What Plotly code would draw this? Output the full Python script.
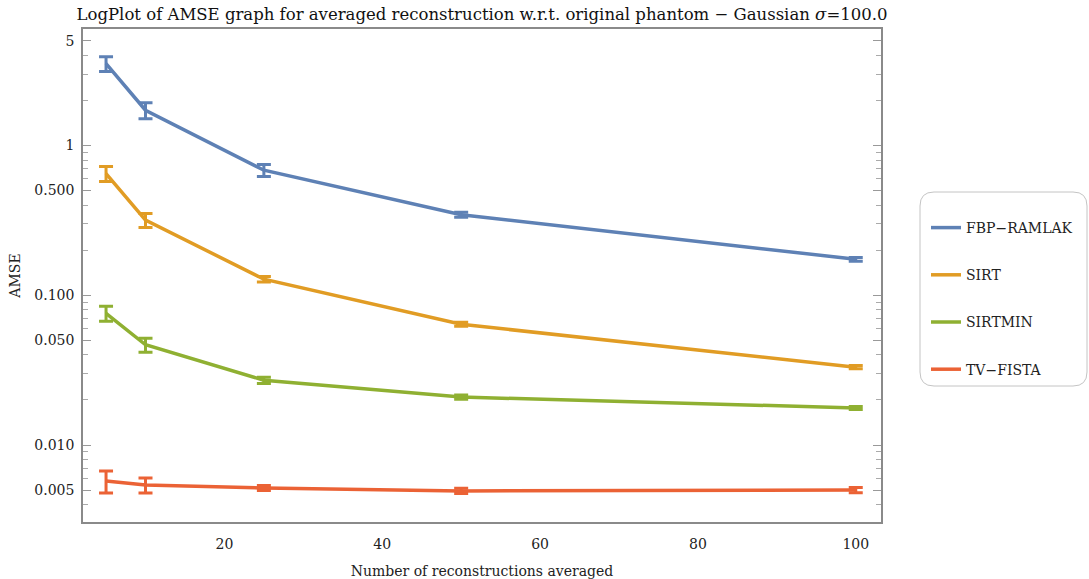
import plotly.graph_objects as go

# Number of reconstructions averaged
n_recon = [5, 10, 25, 50, 100]

# Mean AMSE per method and its standard deviation
fbp_mean = [3.52, 1.72, 0.684, 0.345, 0.174]
fbp_err = [0.40, 0.21, 0.063, 0.013, 0.005]

sirt_mean = [0.650, 0.318, 0.128, 0.0640, 0.0331]
sirt_err = [0.075, 0.034, 0.0055, 0.0020, 0.0008]

sirtmin_mean = [0.0758, 0.0467, 0.0271, 0.0209, 0.0177]
sirtmin_err = [0.0087, 0.0050, 0.0013, 0.0007, 0.0004]

tv_mean = [0.00575, 0.00541, 0.00517, 0.00494, 0.00501]
tv_err = [0.00096, 0.00062, 0.00020, 0.00020, 0.00020]

series = [
    ("FBP\u2212RAMLAK", fbp_mean, fbp_err, "#5E81B5"),
    ("SIRT", sirt_mean, sirt_err, "#E19C24"),
    ("SIRTMIN", sirtmin_mean, sirtmin_err, "#8FB032"),
    ("TV\u2212FISTA", tv_mean, tv_err, "#EB6235"),
]

y_tickvals = [5, 1, 0.5, 0.1, 0.05, 0.01, 0.005]
y_ticktext = ["5", "1", "0.500", "0.100", "0.050", "0.010", "0.005"]
y_minor = [0.004, 0.006, 0.007, 0.008, 0.009,
           0.02, 0.03, 0.04, 0.06, 0.07, 0.08, 0.09,
           0.2, 0.3, 0.4, 0.6, 0.7, 0.8, 0.9,
           2, 3, 4]

FONT = "DejaVu Serif"
W, H = 1089, 579
L, R, T, B = 83, 881, 29, 522

fig = go.Figure()
for i, (name, mean, err, color) in enumerate(series):
    fig.add_trace(go.Scatter(
        x=n_recon, y=mean, name=name, mode="lines",
        legendgroup=f"g{i}",
        line=dict(color=color, width=3.5),
        error_y=dict(type="data", array=err, visible=True,
                     color=color, thickness=3, width=7),
    ))

# rounded frame around the legend (paper coordinates of the plot area)
def px_x(p):
    return (p - L) / (R - L)

def px_y(p):
    return (B - p) / (B - T)

bx0, bx1, by0, by1, rad = 920, 1087, 192, 386, 14
path = (
    f"M {px_x(bx0 + rad)},{px_y(by0)} L {px_x(bx1 - rad)},{px_y(by0)} "
    f"Q {px_x(bx1)},{px_y(by0)} {px_x(bx1)},{px_y(by0 + rad)} "
    f"L {px_x(bx1)},{px_y(by1 - rad)} "
    f"Q {px_x(bx1)},{px_y(by1)} {px_x(bx1 - rad)},{px_y(by1)} "
    f"L {px_x(bx0 + rad)},{px_y(by1)} "
    f"Q {px_x(bx0)},{px_y(by1)} {px_x(bx0)},{px_y(by1 - rad)} "
    f"L {px_x(bx0)},{px_y(by0 + rad)} "
    f"Q {px_x(bx0)},{px_y(by0)} {px_x(bx0 + rad)},{px_y(by0)} Z"
)
fig.add_shape(type="path", path=path, xref="paper", yref="paper",
              line=dict(color="#C4C4C4", width=1), fillcolor="rgba(0,0,0,0)")

axis_color = "#8A8A8A"
fig.update_layout(
    width=W, height=H,
    margin=dict(l=L, r=W - R, t=T, b=H - B, autoexpand=False),
    paper_bgcolor="white", plot_bgcolor="white",
    font=dict(family=FONT, size=14, color="#222222"),
    title=dict(
        text="LogPlot of AMSE graph for averaged reconstruction w.r.t. original phantom \u2212 Gaussian <i>\u03c3</i>=100.0",
        x=(L + R) / 2 / W, xanchor="center", y=1 - 14 / H, yanchor="middle",
        font=dict(family=FONT, size=16.5, color="#111111"),
    ),
    showlegend=True,
    legend=dict(
        xref="container", yref="container",
        x=926 / W, xanchor="left", y=1 - 212 / H, yanchor="top",
        bgcolor="rgba(0,0,0,0)", borderwidth=0,
        font=dict(family=FONT, size=14, color="#222222"),
        tracegroupgap=26, itemwidth=30,
    ),
    xaxis=dict(
        range=[2.08, 103.2], showgrid=False, zeroline=False, automargin=False,
        showline=True, linecolor=axis_color, linewidth=1.5, mirror=True,
        tickvals=[20, 40, 60, 80, 100], ticks="",
        ticklabelstandoff=8,
        tickfont=dict(family=FONT, size=14, color="#222222"),
        title=dict(text="Number of reconstructions averaged",
                   font=dict(family=FONT, size=14, color="#222222"), standoff=18),
    ),
    yaxis=dict(
        type="log", range=[-2.514, 0.778], showgrid=False, zeroline=False,
        automargin=False,
        showline=True, linecolor=axis_color, linewidth=1.5, mirror="ticks",
        tickvals=y_tickvals, ticktext=y_ticktext,
        ticks="inside", ticklen=8, tickwidth=1, tickcolor="#999999",
        minor=dict(tickvals=y_minor, ticks="inside", ticklen=5,
                   tickwidth=1, tickcolor="#AAAAAA", showgrid=False),
        ticklabelstandoff=4,
        tickfont=dict(family=FONT, size=14, color="#222222"),
        title=dict(text="AMSE", font=dict(family=FONT, size=14, color="#222222"),
                   standoff=10),
    ),
)

fig.write_html("out.html")
